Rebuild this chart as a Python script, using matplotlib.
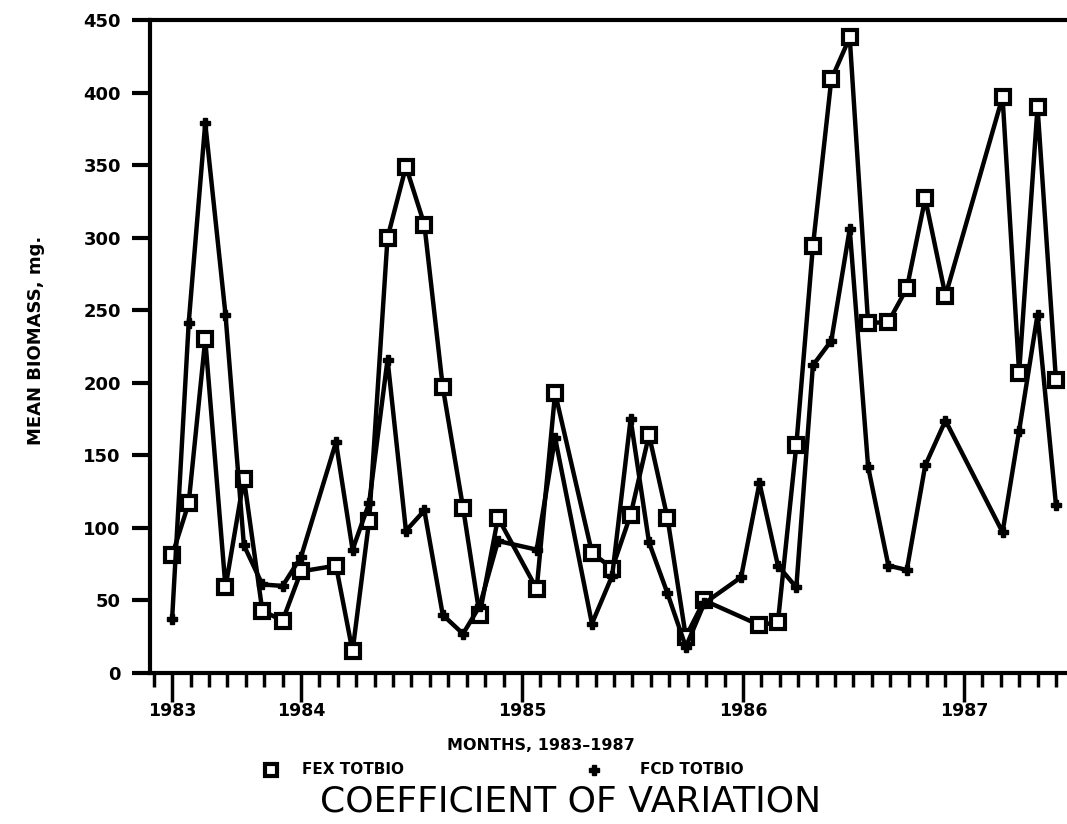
import numpy as np
import matplotlib.pyplot as plt
from matplotlib.lines import Line2D

plt.rcParams['font.family'] = 'DejaVu Sans'

# sample dates, months after the "1983" tick
months = [0.0, 0.9, 1.8, 2.9, 3.9, 4.9, 6.0, 7.0, 8.9, 9.8, 10.7, 11.7, 12.7, 13.7,
          14.7, 15.8, 16.7, 17.7, 19.8, 20.8, 22.8, 23.9, 24.9, 25.9, 26.9, 27.9,
          28.9, 30.9, 31.9, 32.9, 33.9, 34.8, 35.8, 36.8, 37.8, 38.9, 39.9, 40.9,
          42.0, 45.1, 46.0, 47.0, 48.0]

fex_totbio = [81, 117, 230, 59, 134, 43, 36, 70, 74, 15, 105, 300, 349, 309,
              197, 114, 40, 107, 58, 193, 83, 72, 109, 164, 107, 25,
              50, None, 33, 35, 157, 294, 409, 438, 241, 242, 265, 327,
              260, 397, 207, 390, 202]

fcd_totbio = [37, 241, 379, 247, 88, 61, 60, 80, 159, 85, 117, 216, 98, 112,
              40, 27, 46, 91, 85, 162, 34, 67, 175, 90, 55, 18,
              48, 66, 131, 74, 59, 212, 229, 306, 142, 74, 71, 143,
              174, 97, 167, 247, 116]

year_ticks = [0, 7, 19, 31, 43]
year_labels = ['1983', '1984', '1985', '1986', '1987']

x = np.array(months)
fex = np.array([np.nan if v is None else v for v in fex_totbio], dtype=float)
fcd = np.array(fcd_totbio, dtype=float)

W, H = 1067, 824
fig = plt.figure(figsize=(W / 100, H / 100), dpi=100)
ax = fig.add_axes([150 / W, 151 / H, 917 / W, 653 / H])

ok = ~np.isnan(fex)
ax.plot(x[ok], fex[ok], color='black', lw=3.2, marker='s', ms=10,
        mfc='white', mec='black', mew=3, clip_on=False)
ax.plot(x, fcd, color='black', lw=3.2, marker='P', ms=7,
        mfc='black', mec='black', mew=1, clip_on=False)

ax.set_xlim(-1.2, 48.6)
ax.set_ylim(0, 450)

for s in ['left', 'top', 'bottom']:
    ax.spines[s].set_linewidth(3)
ax.spines['right'].set_visible(False)

ax.set_yticks(range(0, 451, 50))
ax.tick_params(axis='y', direction='out', length=13, width=3, pad=8,
               labelsize=13)
ax.set_xticks(year_ticks)
ax.set_xticklabels(year_labels)
ax.set_xticks(range(-1, 49), minor=True)
ax.tick_params(axis='x', which='major', direction='out', length=21, width=2.5,
               pad=0, labelsize=12.5)
ax.tick_params(axis='x', which='minor', direction='out', length=10, width=2.5)
for lab in ax.get_xticklabels() + ax.get_yticklabels():
    lab.set_fontweight('bold')

fig.text(36 / W, 1 - 340 / H, 'MEAN BIOMASS, mg.', rotation=90,
         ha='center', va='center', fontsize=13, fontweight='bold')
fig.text(541 / W, 1 - 746 / H, 'MONTHS, 1983\u20131987', ha='center',
         va='center', fontsize=11.5, fontweight='bold')

# legend row under the axis label
fig.add_artist(Line2D([271 / W], [1 - 770 / H], transform=fig.transFigure,
                      ls='none', marker='s', ms=9, mfc='white', mec='black', mew=3))
fig.text(302 / W, 1 - 770 / H, 'FEX TOTBIO', ha='left', va='center',
         fontsize=11, fontweight='bold')
fig.add_artist(Line2D([594 / W], [1 - 770 / H], transform=fig.transFigure,
                      ls='none', marker='P', ms=7, mfc='black', mec='black'))
fig.text(640 / W, 1 - 770 / H, 'FCD TOTBIO', ha='left', va='center',
         fontsize=11, fontweight='bold')

fig.text(571 / W, 1 - 802 / H, 'COEFFICIENT OF VARIATION', ha='center',
         va='center', fontsize=26)

fig.savefig('out.png', dpi=100)
